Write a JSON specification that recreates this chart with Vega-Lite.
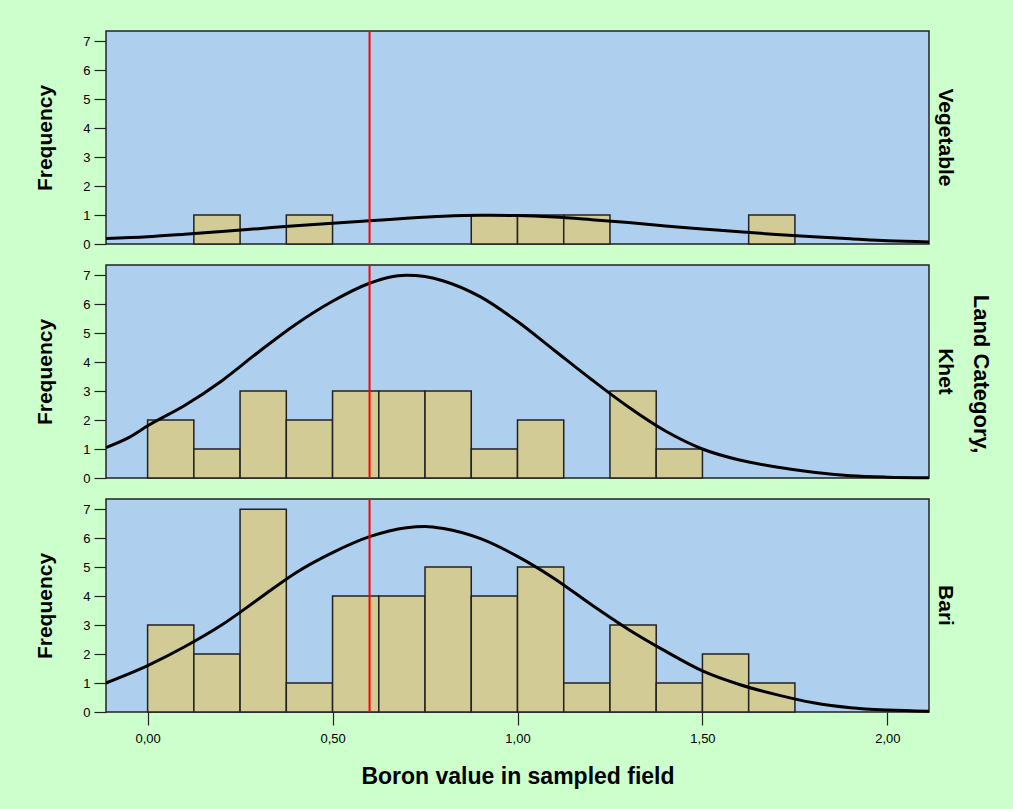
{
  "$schema": "https://vega.github.io/schema/vega-lite/v6.json",
  "background": "#CCFFCC",
  "padding": {"left": 34, "top": 29, "right": 40, "bottom": 40},
  "bounds": "flush",
  "data": {"values": [
    {"cat": "Vegetable", "kind": "bin", "lo": 0.125, "hi": 0.25, "n": 1},
    {"cat": "Vegetable", "kind": "bin", "lo": 0.375, "hi": 0.5, "n": 1},
    {"cat": "Vegetable", "kind": "bin", "lo": 0.875, "hi": 1.0, "n": 1},
    {"cat": "Vegetable", "kind": "bin", "lo": 1.0, "hi": 1.125, "n": 1},
    {"cat": "Vegetable", "kind": "bin", "lo": 1.125, "hi": 1.25, "n": 1},
    {"cat": "Vegetable", "kind": "bin", "lo": 1.625, "hi": 1.75, "n": 1},
    {"cat": "Khet", "kind": "bin", "lo": 0.0, "hi": 0.125, "n": 2},
    {"cat": "Khet", "kind": "bin", "lo": 0.125, "hi": 0.25, "n": 1},
    {"cat": "Khet", "kind": "bin", "lo": 0.25, "hi": 0.375, "n": 3},
    {"cat": "Khet", "kind": "bin", "lo": 0.375, "hi": 0.5, "n": 2},
    {"cat": "Khet", "kind": "bin", "lo": 0.5, "hi": 0.625, "n": 3},
    {"cat": "Khet", "kind": "bin", "lo": 0.625, "hi": 0.75, "n": 3},
    {"cat": "Khet", "kind": "bin", "lo": 0.75, "hi": 0.875, "n": 3},
    {"cat": "Khet", "kind": "bin", "lo": 0.875, "hi": 1.0, "n": 1},
    {"cat": "Khet", "kind": "bin", "lo": 1.0, "hi": 1.125, "n": 2},
    {"cat": "Khet", "kind": "bin", "lo": 1.25, "hi": 1.375, "n": 3},
    {"cat": "Khet", "kind": "bin", "lo": 1.375, "hi": 1.5, "n": 1},
    {"cat": "Bari", "kind": "bin", "lo": 0.0, "hi": 0.125, "n": 3},
    {"cat": "Bari", "kind": "bin", "lo": 0.125, "hi": 0.25, "n": 2},
    {"cat": "Bari", "kind": "bin", "lo": 0.25, "hi": 0.375, "n": 7},
    {"cat": "Bari", "kind": "bin", "lo": 0.375, "hi": 0.5, "n": 1},
    {"cat": "Bari", "kind": "bin", "lo": 0.5, "hi": 0.625, "n": 4},
    {"cat": "Bari", "kind": "bin", "lo": 0.625, "hi": 0.75, "n": 4},
    {"cat": "Bari", "kind": "bin", "lo": 0.75, "hi": 0.875, "n": 5},
    {"cat": "Bari", "kind": "bin", "lo": 0.875, "hi": 1.0, "n": 4},
    {"cat": "Bari", "kind": "bin", "lo": 1.0, "hi": 1.125, "n": 5},
    {"cat": "Bari", "kind": "bin", "lo": 1.125, "hi": 1.25, "n": 1},
    {"cat": "Bari", "kind": "bin", "lo": 1.25, "hi": 1.375, "n": 3},
    {"cat": "Bari", "kind": "bin", "lo": 1.375, "hi": 1.5, "n": 1},
    {"cat": "Bari", "kind": "bin", "lo": 1.5, "hi": 1.625, "n": 2},
    {"cat": "Bari", "kind": "bin", "lo": 1.625, "hi": 1.75, "n": 1},

    {"cat": "Vegetable", "kind": "curve", "x": -0.1125, "f": 0.19},
    {"cat": "Vegetable", "kind": "curve", "x": 0.0, "f": 0.25},
    {"cat": "Vegetable", "kind": "curve", "x": 0.1, "f": 0.34},
    {"cat": "Vegetable", "kind": "curve", "x": 0.2, "f": 0.43},
    {"cat": "Vegetable", "kind": "curve", "x": 0.3, "f": 0.53},
    {"cat": "Vegetable", "kind": "curve", "x": 0.4, "f": 0.63},
    {"cat": "Vegetable", "kind": "curve", "x": 0.5, "f": 0.72},
    {"cat": "Vegetable", "kind": "curve", "x": 0.6, "f": 0.8},
    {"cat": "Vegetable", "kind": "curve", "x": 0.7, "f": 0.89},
    {"cat": "Vegetable", "kind": "curve", "x": 0.8, "f": 0.96},
    {"cat": "Vegetable", "kind": "curve", "x": 0.9, "f": 0.99},
    {"cat": "Vegetable", "kind": "curve", "x": 1.0, "f": 0.98},
    {"cat": "Vegetable", "kind": "curve", "x": 1.1, "f": 0.93},
    {"cat": "Vegetable", "kind": "curve", "x": 1.2, "f": 0.84},
    {"cat": "Vegetable", "kind": "curve", "x": 1.3, "f": 0.74},
    {"cat": "Vegetable", "kind": "curve", "x": 1.4, "f": 0.62},
    {"cat": "Vegetable", "kind": "curve", "x": 1.5, "f": 0.52},
    {"cat": "Vegetable", "kind": "curve", "x": 1.6, "f": 0.42},
    {"cat": "Vegetable", "kind": "curve", "x": 1.7, "f": 0.33},
    {"cat": "Vegetable", "kind": "curve", "x": 1.8, "f": 0.25},
    {"cat": "Vegetable", "kind": "curve", "x": 1.9, "f": 0.18},
    {"cat": "Vegetable", "kind": "curve", "x": 2.0, "f": 0.11},
    {"cat": "Vegetable", "kind": "curve", "x": 2.1125, "f": 0.07},

    {"cat": "Khet", "kind": "curve", "x": -0.1125, "f": 1.05},
    {"cat": "Khet", "kind": "curve", "x": -0.05, "f": 1.4},
    {"cat": "Khet", "kind": "curve", "x": 0.0, "f": 1.8},
    {"cat": "Khet", "kind": "curve", "x": 0.1, "f": 2.5},
    {"cat": "Khet", "kind": "curve", "x": 0.2, "f": 3.35},
    {"cat": "Khet", "kind": "curve", "x": 0.3, "f": 4.35},
    {"cat": "Khet", "kind": "curve", "x": 0.4, "f": 5.3},
    {"cat": "Khet", "kind": "curve", "x": 0.5, "f": 6.1},
    {"cat": "Khet", "kind": "curve", "x": 0.6, "f": 6.72},
    {"cat": "Khet", "kind": "curve", "x": 0.65, "f": 6.92},
    {"cat": "Khet", "kind": "curve", "x": 0.7, "f": 7.0},
    {"cat": "Khet", "kind": "curve", "x": 0.75, "f": 6.95},
    {"cat": "Khet", "kind": "curve", "x": 0.8, "f": 6.8},
    {"cat": "Khet", "kind": "curve", "x": 0.9, "f": 6.25},
    {"cat": "Khet", "kind": "curve", "x": 1.0, "f": 5.4},
    {"cat": "Khet", "kind": "curve", "x": 1.1, "f": 4.4},
    {"cat": "Khet", "kind": "curve", "x": 1.2, "f": 3.4},
    {"cat": "Khet", "kind": "curve", "x": 1.3, "f": 2.45},
    {"cat": "Khet", "kind": "curve", "x": 1.4, "f": 1.62},
    {"cat": "Khet", "kind": "curve", "x": 1.5, "f": 1.0},
    {"cat": "Khet", "kind": "curve", "x": 1.6, "f": 0.62},
    {"cat": "Khet", "kind": "curve", "x": 1.7, "f": 0.38},
    {"cat": "Khet", "kind": "curve", "x": 1.8, "f": 0.2},
    {"cat": "Khet", "kind": "curve", "x": 1.9, "f": 0.08},
    {"cat": "Khet", "kind": "curve", "x": 2.0, "f": 0.03},
    {"cat": "Khet", "kind": "curve", "x": 2.1125, "f": 0.01},

    {"cat": "Bari", "kind": "curve", "x": -0.1125, "f": 1.0},
    {"cat": "Bari", "kind": "curve", "x": 0.0, "f": 1.6},
    {"cat": "Bari", "kind": "curve", "x": 0.1, "f": 2.25},
    {"cat": "Bari", "kind": "curve", "x": 0.2, "f": 3.0},
    {"cat": "Bari", "kind": "curve", "x": 0.3, "f": 3.9},
    {"cat": "Bari", "kind": "curve", "x": 0.4, "f": 4.8},
    {"cat": "Bari", "kind": "curve", "x": 0.5, "f": 5.5},
    {"cat": "Bari", "kind": "curve", "x": 0.6, "f": 6.05},
    {"cat": "Bari", "kind": "curve", "x": 0.7, "f": 6.36},
    {"cat": "Bari", "kind": "curve", "x": 0.75, "f": 6.4},
    {"cat": "Bari", "kind": "curve", "x": 0.8, "f": 6.33},
    {"cat": "Bari", "kind": "curve", "x": 0.9, "f": 5.98},
    {"cat": "Bari", "kind": "curve", "x": 1.0, "f": 5.37},
    {"cat": "Bari", "kind": "curve", "x": 1.1, "f": 4.6},
    {"cat": "Bari", "kind": "curve", "x": 1.2, "f": 3.7},
    {"cat": "Bari", "kind": "curve", "x": 1.3, "f": 2.85},
    {"cat": "Bari", "kind": "curve", "x": 1.4, "f": 2.1},
    {"cat": "Bari", "kind": "curve", "x": 1.5, "f": 1.42},
    {"cat": "Bari", "kind": "curve", "x": 1.6, "f": 0.95},
    {"cat": "Bari", "kind": "curve", "x": 1.7, "f": 0.6},
    {"cat": "Bari", "kind": "curve", "x": 1.8, "f": 0.32},
    {"cat": "Bari", "kind": "curve", "x": 1.9, "f": 0.15},
    {"cat": "Bari", "kind": "curve", "x": 2.0, "f": 0.07},
    {"cat": "Bari", "kind": "curve", "x": 2.1125, "f": 0.03},

    {"cat": "Vegetable", "kind": "ref", "v": 0.6},
    {"cat": "Khet", "kind": "ref", "v": 0.6},
    {"cat": "Bari", "kind": "ref", "v": 0.6}
  ]},
  "facet": {
    "row": {
      "field": "cat", "type": "nominal",
      "sort": ["Vegetable", "Khet", "Bari"],
      "title": "Land Category,",
      "header": {
        "labelOrient": "right", "labelAngle": 90, "labelAlign": "center",
        "labelFont": "Liberation Sans", "labelFontSize": 21, "labelFontWeight": "bold", "labelColor": "#000",
        "labelPadding": 6,
        "titleOrient": "right", "titleAngle": 90,
        "titleFont": "Liberation Sans", "titleFontSize": 22, "titleFontWeight": "bold", "titleColor": "#000",
        "titlePadding": 3
      }
    }
  },
  "spacing": 21,
  "spec": {
    "width": 823,
    "height": 213,
    "layer": [
      {
        "transform": [{"filter": "datum.kind == 'bin'"}],
        "mark": {"type": "bar", "fill": "#D3CB95", "stroke": "#222", "strokeWidth": 1.5},
        "encoding": {
          "x": {"field": "lo", "type": "quantitative", "scale": {"domain": [-0.1125, 2.1125], "nice": false, "zero": false},
                "axis": {"title": "Boron value in sampled field", "values": [0, 0.5, 1, 1.5, 2], "labelExpr": "replace(format(datum.value, '.2f'), '.', ',')"}},
          "x2": {"field": "hi"},
          "y": {"field": "n", "type": "quantitative", "scale": {"domain": [0, 7.35], "nice": false},
                "axis": {"title": "Frequency", "values": [0, 1, 2, 3, 4, 5, 6, 7]}},
          "y2": {"datum": 0}
        }
      },
      {
        "transform": [{"filter": "datum.kind == 'curve'"}],
        "mark": {"type": "line", "color": "#000", "strokeWidth": 3, "interpolate": "monotone"},
        "encoding": {
          "x": {"field": "x", "type": "quantitative",
                "axis": {"title": "Boron value in sampled field", "values": [0, 0.5, 1, 1.5, 2], "labelExpr": "replace(format(datum.value, '.2f'), '.', ',')"}},
          "y": {"field": "f", "type": "quantitative",
                "axis": {"title": "Frequency", "values": [0, 1, 2, 3, 4, 5, 6, 7]}}
        }
      },
      {
        "transform": [{"filter": "datum.kind == 'ref'"}],
        "mark": {"type": "rule", "color": "#FF0000", "strokeWidth": 2},
        "encoding": {
          "x": {"field": "v", "type": "quantitative",
                "axis": {"title": "Boron value in sampled field", "values": [0, 0.5, 1, 1.5, 2], "labelExpr": "replace(format(datum.value, '.2f'), '.', ',')"}}
        }
      }
    ]
  },
  "config": {
    "view": {"fill": "#AECFEE", "stroke": "#222", "strokeWidth": 1.5},
    "axis": {
      "domain": false, "grid": false,
      "tickColor": "#222", "tickWidth": 1.2, "tickSize": 12,
      "labelFont": "Liberation Sans", "labelFontSize": 13, "labelColor": "#000", "labelPadding": 4,
      "titleFont": "Liberation Sans", "titleFontSize": 21, "titleFontWeight": "bold", "titleColor": "#000"
    },
    "axisY": {"titlePadding": 27, "labelOverlap": false},
    "axisX": {"tickSize": 13, "labelPadding": 7, "titlePadding": 20, "titleFontSize": 23}
  }
}
